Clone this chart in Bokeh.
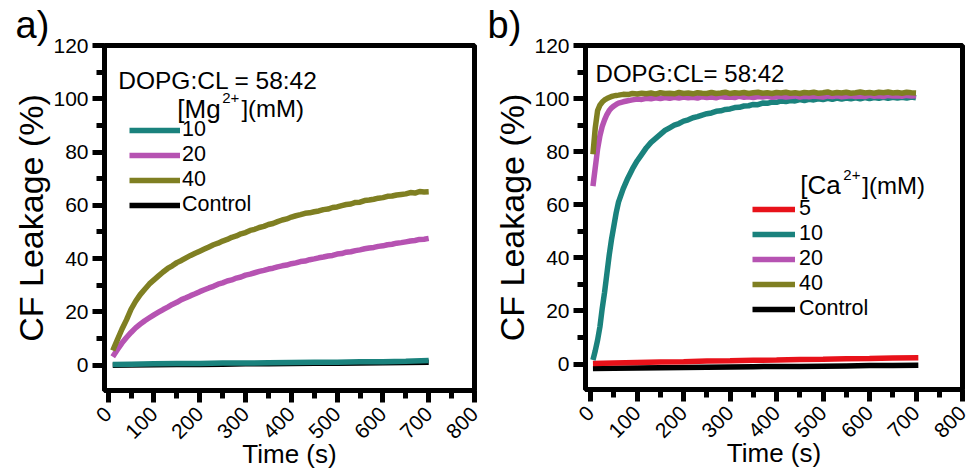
from bokeh.plotting import figure
from bokeh.layouts import row
from bokeh.models import FixedTicker, Legend, LegendItem, Label, Range1d, Title
from bokeh.embed import file_html
from bokeh.resources import INLINE

FONT = "Liberation Sans"

# ---------------- data: panel a (Mg2+) ----------------
t_a = [10, 20, 30, 40, 50, 60, 70, 80, 90, 100,
       110, 120, 130, 140, 150, 160, 170, 180, 190, 200,
       210, 220, 230, 240, 250, 260, 270, 280, 290, 300,
       310, 320, 330, 340, 350, 360, 370, 380, 390, 400,
       410, 420, 430, 440, 450, 460, 470, 480, 490, 500,
       510, 520, 530, 540, 550, 560, 570, 580, 590, 600,
       610, 620, 630, 640, 650, 660, 670, 680, 690, 700]
mg40 = [5.5, 9.5, 13.5, 17.0, 21.0, 24.0, 26.5, 28.5, 30.5, 32.0,
        33.5, 35.0, 36.3, 37.3, 38.5, 39.3, 40.3, 41.2, 42.0, 42.8,
        43.6, 44.4, 45.2, 45.8, 46.6, 47.2, 48.0, 48.5, 49.3, 49.8,
        50.6, 51.0, 51.7, 52.1, 52.8, 53.2, 53.9, 54.5, 54.9, 55.6,
        56.1, 56.5, 57.0, 57.2, 57.6, 57.9, 58.4, 58.6, 59.2, 59.4,
        59.9, 60.3, 60.5, 61.1, 61.2, 61.8, 62.0, 62.3, 62.7, 62.9,
        63.4, 63.5, 63.9, 64.1, 64.3, 64.8, 64.6, 65.2, 65.0, 65.1]
mg20 = [3.2, 5.8, 8.3, 10.4, 12.3, 14.0, 15.4, 16.7, 17.8, 18.9,
        19.9, 20.9, 21.8, 22.8, 23.6, 24.6, 25.3, 26.1, 26.8, 27.6,
        28.3, 29.0, 29.6, 30.4, 30.9, 31.6, 32.0, 32.7, 33.1, 33.8,
        34.2, 34.7, 35.2, 35.6, 36.1, 36.4, 36.9, 37.3, 37.6, 38.1,
        38.4, 38.9, 39.1, 39.6, 39.9, 40.3, 40.6, 41.0, 41.2, 41.7,
        41.9, 42.4, 42.6, 43.0, 43.3, 43.7, 44.0, 44.2, 44.6, 44.8,
        45.2, 45.4, 45.8, 46.0, 46.3, 46.6, 46.8, 47.2, 47.3, 47.6]
t_a_flat = [10, 50, 100, 150, 200, 250, 300, 350, 400, 450, 500, 550, 600, 650, 700]
mg10 = [0.3, 0.4, 0.5, 0.6, 0.6, 0.8, 0.8, 0.9, 1.0, 1.1, 1.1, 1.3, 1.3, 1.5, 1.8]
ctrl_a = [0.0, 0.1, 0.2, 0.3, 0.3, 0.4, 0.5, 0.5, 0.6, 0.7, 0.7, 0.8, 0.9, 1.0, 1.1]

# ---------------- data: panel b (Ca2+) ----------------
t_b = [5, 10, 15, 20, 25, 30, 35, 40, 45, 50, 55, 60,
       70, 80, 90, 100, 110, 120, 130, 140, 150, 160,
       170, 180, 190, 200, 210, 220, 230, 240, 250, 260,
       270, 280, 290, 300, 310, 320, 330, 340, 350, 360,
       370, 380, 390, 400, 410, 420, 430, 440, 450, 460,
       470, 480, 490, 500, 510, 520, 530, 540, 550, 560,
       570, 580, 590, 600, 610, 620, 630, 640, 650, 660,
       670, 680, 690, 700]
ca10 = [1.5, 5.0, 9.0, 14.0, 21.0, 27.0, 34.0, 41.0, 47.0, 52.0, 57.0, 61.0,
        66.0, 70.0, 73.5, 76.5, 79.0, 81.5, 83.5, 85.0, 86.5, 88.0,
        89.0, 90.0, 90.6, 91.5, 92.0, 92.8, 93.2, 93.8, 94.3, 94.6,
        95.2, 95.4, 95.9, 96.1, 96.6, 96.7, 97.2, 97.3, 97.8, 97.7,
        98.3, 98.2, 98.7, 98.6, 99.1, 98.9, 99.3, 99.1, 99.6, 99.3,
        99.7, 99.5, 99.9, 99.6, 100.1, 99.7, 100.2, 99.8, 100.2, 99.9,
        100.3, 99.9, 100.4, 100.0, 100.4, 100.1, 100.5, 100.1, 100.5, 100.2,
        100.5, 100.2, 100.6, 100.3]
ca20 = [67.0, 74.0, 81.0, 86.0, 89.5, 92.0, 94.0, 95.5, 96.5, 97.2, 97.8, 98.3,
        98.8, 99.2, 99.5, 99.8, 99.7, 100.1, 99.9, 100.3, 100.0, 100.4,
        100.1, 100.5, 100.2, 100.6, 100.3, 100.5, 100.2, 100.7, 100.4, 100.6,
        100.3, 100.8, 100.5, 100.6, 100.4, 100.9, 100.5, 100.7, 100.4, 100.8,
        100.6, 100.9, 100.5, 100.7, 100.9, 100.6, 100.8, 101.0, 100.6, 100.9,
        100.7, 101.0, 100.8, 100.6, 101.0, 100.8, 101.1, 100.7, 100.9, 101.1,
        100.8, 101.0, 100.8, 101.2, 100.9, 101.1, 100.8, 101.2, 101.0, 101.1,
        100.9, 101.2, 101.0, 101.1]
ca40 = [79.0, 89.0, 95.5, 97.5, 98.7, 99.5, 100.0, 100.4, 100.8, 101.0, 101.2, 101.3,
        101.6, 101.5, 101.9, 101.7, 102.0, 101.8, 102.1, 101.7, 102.2, 101.9,
        102.0, 101.8, 102.3, 101.9, 102.1, 101.8, 102.2, 102.0, 101.9, 102.3,
        101.9, 102.1, 102.4, 101.9, 102.2, 102.0, 102.3, 101.9, 102.2, 102.4,
        102.0, 102.2, 101.9, 102.3, 102.1, 102.4, 102.0, 102.2, 101.9, 102.3,
        102.1, 102.4, 102.0, 102.2, 102.5, 102.0, 102.3, 102.1, 102.4, 102.0,
        102.2, 102.5, 102.1, 102.3, 102.0, 102.4, 102.2, 102.5, 102.1, 102.3,
        102.0, 102.4, 102.2, 102.1]
t_b_flat = [5, 50, 100, 150, 200, 250, 300, 350, 400, 450, 500, 550, 600, 650, 705]
ca5 = [0.2, 0.4, 0.6, 0.8, 0.9, 1.1, 1.2, 1.4, 1.5, 1.7, 1.8, 2.0, 2.1, 2.3, 2.4]
ctrl_b = [-1.7, -1.6, -1.5, -1.4, -1.3, -1.2, -1.1, -1.0, -0.9, -0.9, -0.8, -0.7, -0.6, -0.6, -0.5]

x_major = [0, 100, 200, 300, 400, 500, 600, 700, 800]
x_minor = [50, 150, 250, 350, 450, 550, 650, 750]
y_major = [0, 20, 40, 60, 80, 100, 120]
y_minor = [-10, 10, 30, 50, 70, 90, 110]

TEAL = "#1a827d"
MAGENTA = "#b653b2"
OLIVE = "#7f7f22"
RED = "#e8121a"
BLACK = "#000000"
LW = 5.5


def base_fig(x0, y0, fw, fh, bl, bt, bb, br, panel, panel_offset):
    p = figure(frame_width=fw, frame_height=fh, x_range=Range1d(x0, 800),
               y_range=Range1d(y0, 120), output_backend="svg",
               toolbar_location=None, min_border_left=bl, min_border_top=bt,
               min_border_bottom=bb, min_border_right=br)
    p.add_layout(Title(text=panel, align="left", offset=panel_offset,
                       text_font=FONT, text_font_size="38px",
                       text_font_style="normal", text_color=BLACK,
                       standoff=0), "above")
    p.grid.visible = False
    p.outline_line_color = BLACK
    p.outline_line_width = 5
    p.background_fill_color = "white"
    p.border_fill_color = "white"
    p.xaxis.ticker = FixedTicker(ticks=x_major, minor_ticks=x_minor)
    p.yaxis.ticker = FixedTicker(ticks=y_major, minor_ticks=y_minor)
    for ax in (p.xaxis[0], p.yaxis[0]):
        ax.axis_line_color = BLACK
        ax.axis_line_width = 5
        ax.major_tick_line_width = 5
        ax.minor_tick_line_width = 5
        ax.major_tick_in = 0
        ax.minor_tick_in = 0
        ax.major_tick_out = 12
        ax.minor_tick_out = 8
        ax.major_label_text_font = FONT
        ax.major_label_text_font_size = "21px"
        ax.major_label_text_color = BLACK
        ax.axis_label_text_font = FONT
        ax.axis_label_text_font_style = "normal"
        ax.axis_label_text_color = BLACK
    p.xaxis.major_label_orientation = 0.785398
    p.xaxis.major_label_standoff = 8
    p.yaxis.major_label_standoff = 4
    p.xaxis.axis_label = "Time (s)"
    p.xaxis.axis_label_text_font_size = "26px"
    p.xaxis.axis_label_standoff = -9
    p.yaxis.axis_label = "CF Leakage (%)"
    p.yaxis.axis_label_text_font_size = "34px"
    p.yaxis.axis_label_standoff = 0
    return p


def add_label(p, x, y, text, size):
    p.add_layout(Label(x=x, y=y, text=text, text_font=FONT,
                       text_font_size=size, text_color=BLACK,
                       text_baseline="alphabetic", text_align="left"))


def make_legend(items, loc, gw, standoff):
    return Legend(items=items, location=loc, glyph_width=gw, glyph_height=20,
                  label_height=20, label_standoff=standoff, spacing=0,
                  padding=0, margin=0, border_line_color=None,
                  background_fill_alpha=0, label_text_font=FONT,
                  label_text_font_size="21.5px", label_text_color=BLACK,
                  label_text_baseline="middle")


# ---------------- panel a ----------------
pa = base_fig(-8, -9.5, 370, 345, 104, 45, 60, 11, "a)", -89)
r_ca = pa.line(t_a_flat, ctrl_a, line_color=BLACK, line_width=LW)
r_10a = pa.line(t_a_flat, mg10, line_color=TEAL, line_width=LW)
r_20a = pa.line(t_a, mg20, line_color=MAGENTA, line_width=LW)
r_40a = pa.line(t_a, mg40, line_color=OLIVE, line_width=LW)

pa.add_layout(make_legend([LegendItem(label="10", renderers=[r_10a]),
                           LegendItem(label="20", renderers=[r_20a]),
                           LegendItem(label="40", renderers=[r_40a]),
                           LegendItem(label="Control", renderers=[r_ca])],
                          (25, 173), 51, 2))

add_label(pa, 22, 107.0, "DOPG:CL = 58:42", "24.5px")
add_label(pa, 151, 96.3, "[Mg", "26px")
add_label(pa, 249, 100.2, "2+", "15px")
add_label(pa, 291, 96.3, "](mM)", "24px")

# ---------------- panel b ----------------
pb = base_fig(-11, -9.6, 377, 344, 100, 45, 60, 8, "b)", -98)
r_cb = pb.line(t_b_flat, ctrl_b, line_color=BLACK, line_width=LW)
r_5b = pb.line(t_b_flat, ca5, line_color=RED, line_width=LW)
r_10b = pb.line(t_b, ca10, line_color=TEAL, line_width=LW)
r_20b = pb.line(t_b, ca20, line_color=MAGENTA, line_width=LW)
r_40b = pb.line(t_b, ca40, line_color=OLIVE, line_width=LW)

pb.add_layout(make_legend([LegendItem(label="5", renderers=[r_5b]),
                           LegendItem(label="10", renderers=[r_10b]),
                           LegendItem(label="20", renderers=[r_20b]),
                           LegendItem(label="40", renderers=[r_40b]),
                           LegendItem(label="Control", renderers=[r_cb])],
                          (167, 68), 43, 4))

add_label(pb, 10.7, 109.5, "DOPG:CL= 58:42", "24px")
add_label(pb, 451, 67.3, "[Ca", "26px")
add_label(pb, 543.7, 71.2, "2+", "15px")
add_label(pb, 584.6, 67.3, "](mM)", "24px")

layout = row(pa, pb)
open("out.html", "w").write(file_html(layout, INLINE))
